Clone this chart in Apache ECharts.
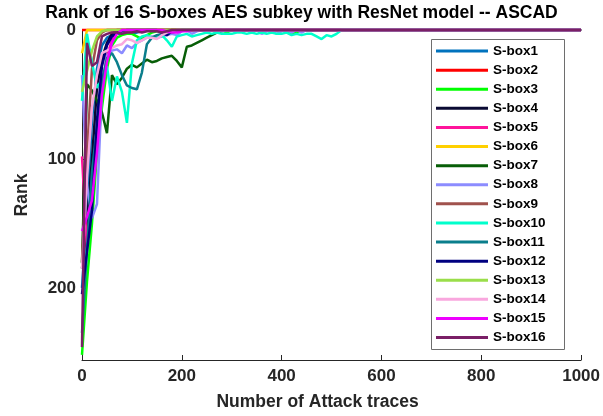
<!DOCTYPE html>
<html>
<head>
<meta charset="utf-8">
<script src="https://cdn.jsdelivr.net/npm/echarts@6/dist/echarts.min.js"></script>
<style>
  html, body { margin: 0; padding: 0; background: #ffffff; }
  #chart { width: 603px; height: 416px; }
</style>
</head>
<body>
<div id="chart"></div>
<script>
// Number of attack traces at which the key rank was evaluated
const traces = [
  0, 10, 20, 30, 40, 50, 60, 70, 80, 90,
  100, 110, 120, 130, 140, 150, 160, 170, 180, 190,
  200, 210, 220, 230, 240, 250, 260, 270, 280, 290,
  300, 310, 320, 330, 340, 350, 360, 370, 380, 390,
  400, 410, 420, 430, 440, 450, 460, 470, 480, 490,
  500, 510, 520, 530, 540, 550, 1000
];

// Rank of the correct subkey byte for each S-box
const sbox1 = [
  200, 140, 70, 30, 12, 6, 4, 3, 3, 2,
  3, 2, 1, 0, 0, 0, 0, 0, 0, 0,
  0, 0, 0, 0, 0, 0, 0, 0, 0, 0,
  0, 0, 0, 0, 0, 0, 0, 0, 0, 0,
  0, 0, 0, 0, 0, 0, 0, 0, 0, 0,
  0, 0, 0, 0, 0, 0, 0
];
const sbox2 = [
  0, 0, 0, 0, 0, 0, 0, 0, 0, 0,
  0, 0, 0, 0, 0, 0, 0, 0, 0, 0,
  0, 0, 0, 0, 0, 0, 0, 0, 0, 0,
  0, 0, 0, 0, 0, 0, 0, 0, 0, 0,
  0, 0, 0, 0, 0, 0, 0, 0, 0, 0,
  0, 0, 0, 0, 0, 0, 0
];
const sbox3 = [
  252, 195, 150, 95, 60, 30, 12, 6, 4, 3,
  3, 5, 7, 4, 2, 1, 1, 0, 0, 0,
  0, 0, 0, 0, 0, 0, 0, 0, 0, 2,
  0, 0, 0, 0, 0, 0, 0, 0, 0, 0,
  0, 1, 3, 2, 0, 0, 0, 0, 0, 0,
  0, 0, 0, 0, 0, 0, 0
];
const sbox4 = [
  185, 150, 100, 45, 22, 10, 3, 0, 0, 0,
  0, 0, 0, 0, 0, 0, 0, 0, 0, 0,
  0, 0, 0, 0, 0, 0, 0, 0, 0, 0,
  0, 0, 0, 0, 0, 0, 0, 0, 0, 0,
  0, 0, 0, 0, 0, 0, 0, 0, 0, 0,
  0, 0, 0, 0, 0, 0, 0
];
const sbox5 = [
  98, 170, 118, 80, 45, 20, 8, 2, 0, 0,
  0, 0, 0, 0, 0, 0, 0, 0, 0, 0,
  0, 0, 0, 0, 0, 0, 0, 0, 0, 0,
  0, 0, 0, 0, 0, 0, 0, 0, 0, 0,
  0, 0, 0, 0, 0, 0, 0, 0, 0, 0,
  0, 0, 0, 0, 0, 0, 0
];
const sbox6 = [
  18, 0, 0, 0, 0, 0, 0, 0, 0, 0,
  0, 0, 0, 0, 0, 0, 0, 0, 0, 0,
  0, 0, 0, 0, 0, 0, 0, 0, 0, 0,
  0, 0, 0, 0, 0, 0, 0, 0, 0, 0,
  0, 0, 0, 0, 0, 0, 0, 0, 0, 0,
  0, 0, 0, 0, 0, 0, 0
];
const sbox7 = [
  181, 42, 47, 55, 64, 80, 35, 42, 37, 30,
  27, 29, 26, 23, 25, 24, 22, 21, 20, 24,
  29, 13, 12, 10, 8, 6, 4, 2, 1, 0,
  0, 0, 0, 0, 0, 0, 0, 0, 0, 0,
  0, 0, 0, 0, 0, 0, 0, 0, 0, 0,
  0, 0, 0, 0, 0, 0, 0
];
const sbox8 = [
  35, 120, 146, 135, 45, 20, 16, 15, 18, 12,
  14, 10, 8, 6, 5, 6, 5, 4, 3, 4,
  1, 0, 3, 1, 0, 1, 0, 0, 1, 0,
  0, 1, 0, 0, 1, 0, 3, 1, 0, 3,
  1, 0, 2, 0, 2, 0, 0, 0, 0, 0,
  0, 0, 0, 0, 0, 0, 0
];
const sbox9 = [
  180, 95, 30, 8, 2, 0, 0, 0, 0, 0,
  0, 0, 0, 0, 0, 0, 0, 0, 0, 0,
  0, 0, 0, 0, 0, 0, 0, 0, 0, 0,
  0, 0, 0, 0, 0, 0, 0, 0, 0, 0,
  0, 0, 0, 0, 0, 0, 0, 0, 0, 0,
  0, 0, 0, 0, 0, 0, 0
];
const sbox10 = [
  55, 3, 25, 45, 38, 28, 55, 36, 48, 72,
  26, 8, 5, 4, 6, 5, 4, 8, 13, 5,
  4, 3, 5, 4, 3, 2, 3, 2, 3, 3,
  3, 2, 2, 3, 2, 3, 2, 3, 2, 3,
  3, 2, 4, 3, 4, 3, 3, 5, 7, 4,
  5, 3, 0, 0, 0, 0, 0
];
const sbox11 = [
  235, 170, 110, 75, 40, 22, 18, 25, 35, 43,
  45, 46, 33, 11, 6, 4, 3, 2, 2, 1,
  0, 0, 0, 0, 0, 0, 0, 0, 0, 0,
  0, 0, 0, 0, 0, 0, 0, 0, 0, 0,
  0, 0, 0, 0, 0, 0, 0, 0, 0, 0,
  0, 0, 0, 0, 0, 0, 0
];
const sbox12 = [
  205, 172, 140, 70, 28, 12, 5, 2, 1, 0,
  0, 0, 0, 0, 0, 0, 2, 4, 1, 0,
  0, 0, 0, 0, 0, 0, 0, 0, 0, 0,
  0, 0, 0, 0, 0, 0, 0, 0, 0, 0,
  0, 0, 0, 0, 0, 0, 0, 0, 0, 0,
  0, 0, 0, 0, 0, 0, 0
];
const sbox13 = [
  48, 32, 16, 5, 1, 0, 0, 0, 0, 0,
  0, 0, 0, 0, 0, 0, 0, 0, 0, 0,
  0, 0, 0, 0, 0, 0, 0, 0, 0, 0,
  0, 0, 0, 0, 0, 0, 0, 0, 0, 0,
  0, 0, 0, 0, 0, 0, 0, 0, 0, 0,
  0, 0, 0, 0, 0, 0, 0
];
const sbox14 = [
  185, 115, 60, 35, 18, 16, 14, 12, 11, 7,
  8, 10, 8, 6, 6, 7, 4, 2, 1, 0,
  0, 0, 0, 0, 0, 0, 0, 0, 0, 0,
  0, 0, 0, 0, 0, 0, 0, 0, 0, 0,
  0, 0, 0, 0, 0, 0, 0, 0, 0, 0,
  0, 0, 0, 0, 0, 0, 0
];
const sbox15 = [
  156, 145, 132, 95, 50, 25, 10, 3, 0, 0,
  0, 0, 0, 0, 0, 0, 0, 1, 2, 2,
  1, 1, 0, 0, 0, 0, 0, 0, 0, 0,
  0, 0, 0, 0, 0, 0, 0, 0, 0, 0,
  0, 0, 0, 0, 0, 0, 0, 0, 0, 0,
  0, 0, 0, 0, 0, 0, 0
];
const sbox16 = [
  246, 10, 28, 25, 5, 3, 2, 2, 3, 2,
  2, 1, 2, 1, 1, 1, 2, 1, 0, 0,
  0, 0, 0, 0, 0, 0, 0, 0, 0, 0,
  0, 0, 0, 0, 0, 0, 0, 0, 0, 0,
  0, 0, 0, 0, 0, 0, 0, 0, 0, 0,
  0, 0, 0, 0, 0, 0, 0
];

const seriesNames = [
  'S-box1', 'S-box2', 'S-box3', 'S-box4', 'S-box5', 'S-box6', 'S-box7', 'S-box8',
  'S-box9', 'S-box10', 'S-box11', 'S-box12', 'S-box13', 'S-box14', 'S-box15', 'S-box16'
];
const seriesValues = [
  sbox1, sbox2, sbox3, sbox4, sbox5, sbox6, sbox7, sbox8,
  sbox9, sbox10, sbox11, sbox12, sbox13, sbox14, sbox15, sbox16
];
const seriesColors = [
  '#0072BD', '#FF0000', '#00FF00', '#0A0A33', '#FF149B', '#FFD000', '#075E07', '#8C8CFF',
  '#A0524D', '#00FFCC', '#0A7E8C', '#000080', '#9ADE4A', '#F9A7DE', '#EE00FF', '#7A1F66'
];

const fontFamily = '"Liberation Sans", Arial, Helvetica, sans-serif';
const axisColor = '#262626';

const chart = echarts.init(document.getElementById('chart'), null, { renderer: 'canvas' });

chart.setOption({
  animation: false,
  backgroundColor: '#ffffff',
  title: {
    text: 'Rank of 16 S-boxes AES subkey with ResNet model -- ASCAD',
    left: 'center',
    top: 3,
    padding: [0, 7, 0, 0],
    textStyle: { fontFamily, fontWeight: 'bold', fontSize: 17.5, color: '#000000', lineHeight: 20 }
  },
  grid: { left: 82, right: 21, top: 30, bottom: 56, containLabel: false },
  xAxis: {
    type: 'value',
    min: 0,
    max: 1000,
    interval: 200,
    name: 'Number of Attack traces',
    nameLocation: 'middle',
    nameGap: 33,
    nameTextStyle: { fontFamily, fontWeight: 'bold', fontSize: 17.5, color: axisColor, padding: [0, 28, 0, 0] },
    axisLine: { show: true, onZero: false, lineStyle: { color: axisColor, width: 1 } },
    axisTick: { show: true, inside: true, length: 5, lineStyle: { color: axisColor, width: 1 } },
    axisLabel: {
      fontFamily, fontWeight: 'bold', fontSize: 17, color: axisColor, margin: 8,
      formatter: v => String(v)
    },
    splitLine: { show: false }
  },
  yAxis: {
    type: 'value',
    inverse: true,
    min: 0,
    max: 256,
    interval: 100,
    name: 'Rank',
    nameLocation: 'middle',
    nameGap: 51,
    nameRotate: 90,
    nameTextStyle: { fontFamily, fontWeight: 'bold', fontSize: 17.5, color: axisColor },
    axisLine: { show: true, onZero: false, lineStyle: { color: axisColor, width: 1 } },
    axisTick: { show: true, inside: true, length: 5, lineStyle: { color: axisColor, width: 1 } },
    axisLabel: {
      fontFamily, fontWeight: 'bold', fontSize: 17, color: axisColor, margin: 6,
      formatter: v => (v % 100 === 0 ? String(v) : '')
    },
    splitLine: { show: false }
  },
  legend: {
    orient: 'vertical',
    left: 436,
    top: 41.5,
    padding: 0,
    itemGap: 0,
    itemWidth: 52,
    itemHeight: 3,
    icon: 'rect',
    data: seriesNames,
    textStyle: { fontFamily, fontWeight: 'bold', fontSize: 13.5, color: '#000000', lineHeight: 19.1 }
  },
  graphic: [{
    type: 'rect',
    z: 3,
    shape: { x: 431.5, y: 39.5, width: 133, height: 310 },
    style: { fill: '#ffffff', stroke: '#6e6e6e', lineWidth: 1 }
  }],
  series: seriesNames.map((name, i) => ({
    name,
    type: 'line',
    data: traces.map((t, j) => [t, seriesValues[i][j]]),
    showSymbol: false,
    symbol: 'none',
    clip: false,
    lineStyle: { width: 2.5, color: seriesColors[i] },
    itemStyle: { color: seriesColors[i] },
    z: 2
  }))
});
</script>
</body>
</html>
